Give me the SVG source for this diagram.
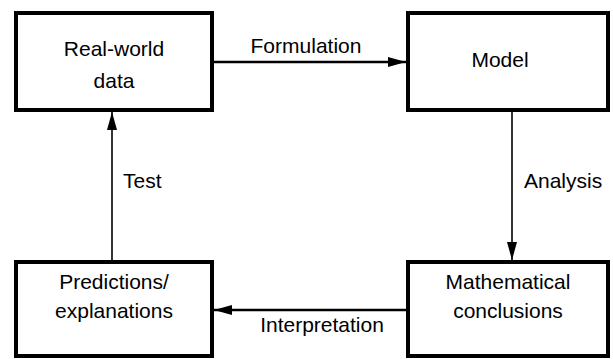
<svg xmlns="http://www.w3.org/2000/svg" width="613" height="359" viewBox="0 0 613 359">
<style>
.box{fill:#fff;stroke:#000;stroke-width:4}
.t{font-family:"Liberation Sans",Arial,sans-serif;font-size:21px;fill:#000}
.c{text-anchor:middle}
.thick{stroke:#000;stroke-width:2.5;fill:none}
.thin{stroke:#000;stroke-width:1.6;fill:none}
</style>
<defs>
<marker id="ah" viewBox="0 0 18 10" refX="18" refY="5" markerWidth="18" markerHeight="10" markerUnits="userSpaceOnUse" orient="auto">
<path d="M0,0 L18,5 L0,10 Z" fill="#000"/>
</marker>
</defs>
<g id="connectors">
<line class="thick" x1="214" y1="62" x2="406" y2="62" marker-end="url(#ah)"/>
<line class="thin" x1="512" y1="112" x2="512" y2="260" marker-end="url(#ah)"/>
<line class="thick" x1="406" y1="310" x2="214" y2="310" marker-end="url(#ah)"/>
<line class="thin" x1="112" y1="260" x2="112" y2="112" marker-end="url(#ah)"/>
<text class="t c" x="306" y="53">Formulation</text>
<text class="t" x="524" y="188">Analysis</text>
<text class="t c" x="322" y="332">Interpretation</text>
<text class="t" x="123" y="188">Test</text>
</g>
<g id="real-world-data">
<rect class="box" x="16" y="13" width="196" height="97"/>
<text class="t c" x="114" y="56">Real-world</text>
<text class="t c" x="114" y="88">data</text>
</g>
<g id="model">
<rect class="box" x="408" y="13" width="200" height="97"/>
<text class="t c" x="500" y="67">Model</text>
</g>
<g id="mathematical-conclusions">
<rect class="box" x="408" y="262" width="200" height="94"/>
<text class="t c" x="508" y="289">Mathematical</text>
<text class="t c" x="508" y="318">conclusions</text>
</g>
<g id="predictions-explanations">
<rect class="box" x="16" y="262" width="196" height="94"/>
<text class="t c" x="114" y="289">Predictions/</text>
<text class="t c" x="114" y="318">explanations</text>
</g>
</svg>
